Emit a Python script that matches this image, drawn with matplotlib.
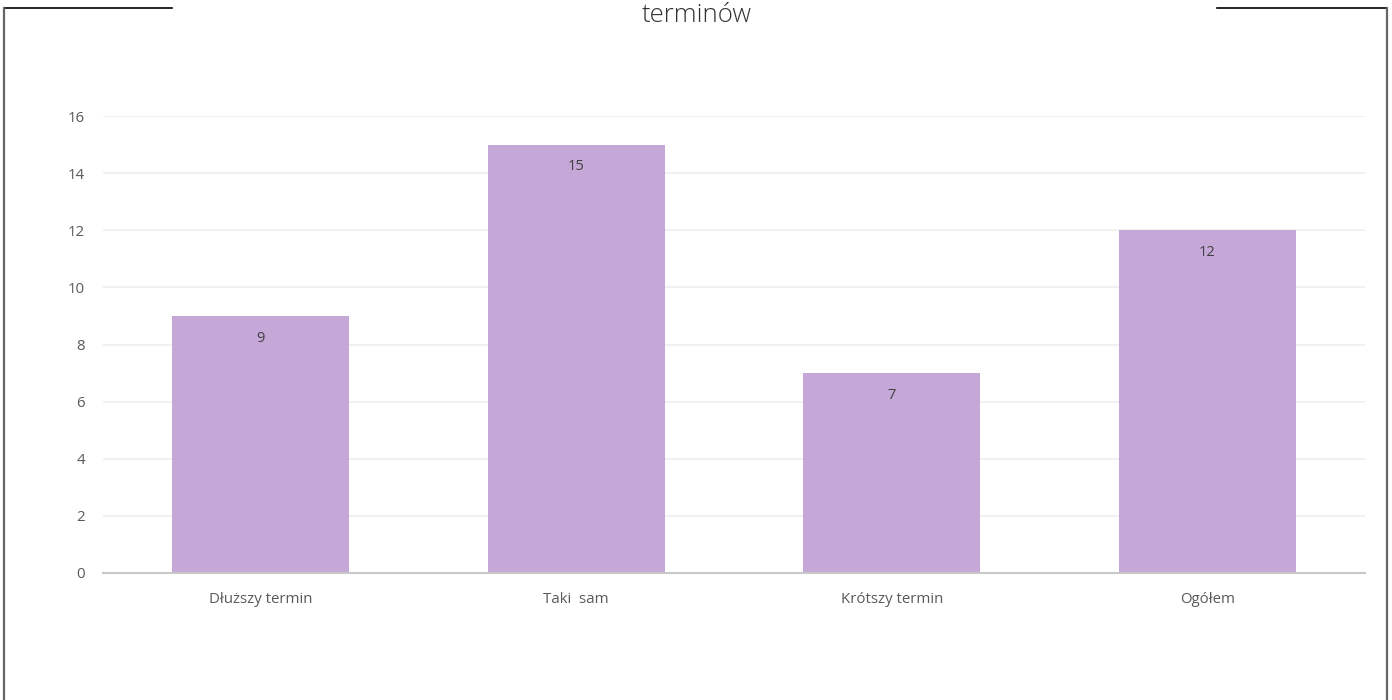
import matplotlib
matplotlib.use("Agg")
import matplotlib.pyplot as plt
from matplotlib.lines import Line2D

categories = ["Dłuższy termin", "Taki  sam", "Krótszy termin", "Ogółem"]
values = [9, 15, 7, 12]
yticks = [0, 2, 4, 6, 8, 10, 12, 14, 16]
title_text = "terminów"

plt.rcParams["font.family"] = ["Open Sans", "DejaVu Sans"]

W, H = 1392, 700
fig = plt.figure(figsize=(W / 100, H / 100), dpi=100)
fig.patch.set_facecolor("white")

# plot area in pixel coordinates
x0, x1 = 103, 1365
y0, y1 = 573, 116
ax = fig.add_axes([x0 / W, 1 - y0 / H, (x1 - x0) / W, (y0 - y1) / H])

bar_color = "#c2a3d5"
ax.bar(range(len(values)), values, width=0.56, color=bar_color, alpha=0.95,
       zorder=3)
for i, v in enumerate(values):
    ax.annotate(str(v), (i, v), xytext=(0, -16), textcoords="offset points",
                ha="center", va="center", fontsize=10.5, color="#404040",
                zorder=4)

ax.set_xlim(-0.5, len(values) - 0.5)
ax.set_ylim(0, 16)
ax.set_yticks(yticks)
ax.set_yticklabels([str(t) for t in yticks])
ax.set_xticks(range(len(values)))
ax.set_xticklabels(categories)
ax.tick_params(axis="both", length=0, labelsize=10.8, labelcolor="#595959")
ax.tick_params(axis="y", pad=13)
ax.tick_params(axis="x", pad=14)
ax.grid(axis="y", color="#efefef", linewidth=1.2, zorder=0)
for side in ("top", "right", "left"):
    ax.spines[side].set_visible(False)
ax.spines["bottom"].set_color("#c8c8c8")
ax.spines["bottom"].set_linewidth(1.5)
ax.spines["bottom"].set_zorder(5)

fig.text(697 / W, 1 - 15 / H, title_text, ha="center", va="center",
         fontsize=18.5, color="#333333", fontweight="light")

# outer frame with a gap at the top
def px_line(xs, ys, color, lw):
    fig.add_artist(Line2D([x / W for x in xs], [1 - y / H for y in ys],
                          color=color, linewidth=lw, transform=fig.transFigure))

px_line([4, 172], [8, 8], "black", 1.2)
px_line([1217, 1387], [8, 8], "black", 1.2)
px_line([4, 4], [8, 702], "#666666", 1.6)
px_line([1387, 1387], [8, 702], "#666666", 1.6)

fig.savefig("out.png", dpi=100, facecolor="white")
